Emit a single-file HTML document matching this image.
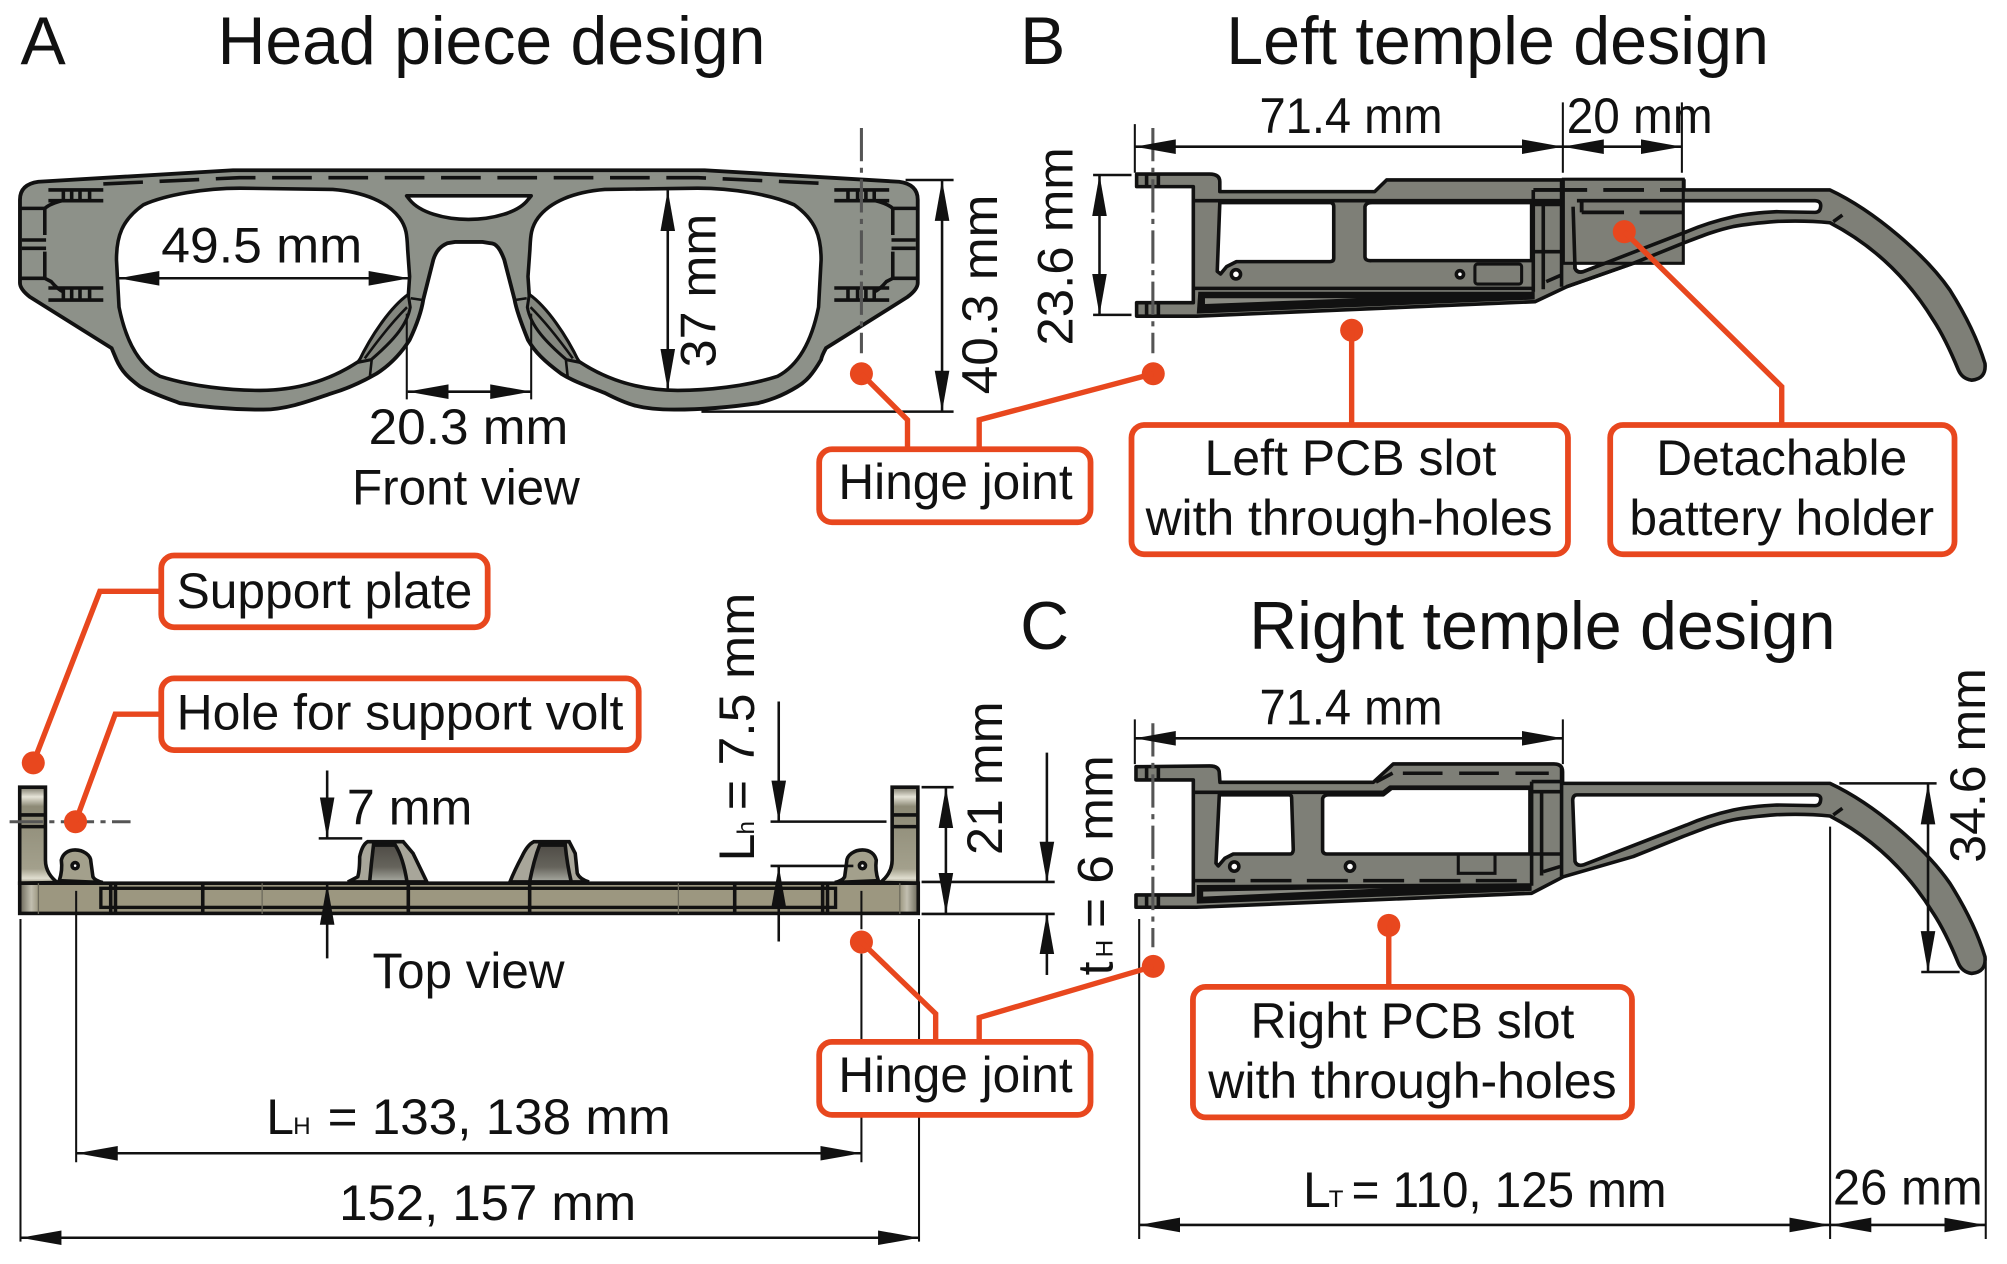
<!DOCTYPE html>
<html><head><meta charset="utf-8"><style>
html,body{margin:0;padding:0;background:#fff}
svg{display:block}
text{font-family:"Liberation Sans",sans-serif;fill:#111}
.t{font-size:53px}.m{font-size:39px}
.d{stroke:#111;stroke-width:2;fill:none}
.e{stroke:#111;stroke-width:1.6;fill:none}
.o{stroke:#e8471e;stroke-width:4.2;fill:none}
.b{stroke:#e8471e;stroke-width:4.5;fill:#fff}
.f{fill:#e8471e}
.k{stroke:#111;stroke-width:2.8;fill:none;stroke-linejoin:round}
.w{fill:#fff;stroke:#111;stroke-width:2.8;stroke-linejoin:round}
.c{stroke:#555;stroke-width:2.4;fill:none;stroke-dasharray:26 5 4 5}
</style></head><body>
<svg xmlns="http://www.w3.org/2000/svg" width="2007" height="1264" viewBox="0 0 1568 987.5">
<defs>
<marker id="a" markerUnits="userSpaceOnUse" markerWidth="34" markerHeight="14" refX="32" refY="6.5" orient="auto-start-reverse"><path d="M0,0.8L32,6.5L0,12.2Z" fill="#111"/></marker>
<linearGradient id="g1" x1="0" x2="0" y1="0" y2="1"><stop offset="0" stop-color="#4f4c46"/><stop offset=".6" stop-color="#66645c"/><stop offset="1" stop-color="#a9aba2"/></linearGradient>
<linearGradient id="g2" x1="0" x2="0" y1="0" y2="1"><stop offset="0" stop-color="#7a7767"/><stop offset=".1" stop-color="#e6e4d8"/><stop offset=".2" stop-color="#8d8a76"/><stop offset=".85" stop-color="#a3a08c"/><stop offset=".95" stop-color="#e0ded0"/><stop offset="1" stop-color="#8d8a76"/></linearGradient>
<linearGradient id="g3" x1="0" x2="1" y1="0" y2="0"><stop offset="0" stop-color="#6d6a5c"/><stop offset=".6" stop-color="#c2bfb0"/><stop offset="1" stop-color="#9c9780"/></linearGradient>
</defs>
<rect width="1568" height="987.5" fill="#fff"/>

<!-- Titles -->
<text class="t" x="16" y="50">A</text>
<text class="t" x="170" y="50" textLength="428" lengthAdjust="spacingAndGlyphs">Head piece design</text>
<text class="t" x="797" y="50">B</text>
<text class="t" x="958" y="50" textLength="424" lengthAdjust="spacingAndGlyphs">Left temple design</text>
<text class="t" x="797" y="507">C</text>
<text class="t" x="976" y="507" textLength="458" lengthAdjust="spacingAndGlyphs">Right temple design</text>

<!-- Front frame -->
<path d="M30,142L182,133H550.5L702.5,142Q717,144 717,156V221Q717,226 709,232L645.3,272Q642,278 641.5,281C635,292 630,298 623,302C610,310 600,313 592,315C565,319 545,320 527,320C500,320 490,316 472.5,307C460,302 448,298 438.5,292C425,282 418,275 412.5,265.6C407,252 403,240 402,234L394,203C391,195 388,190 383,190L377,189H355.5L349.5,190C345,192 341,195 338.5,203L330.7,234C329,245 325,255 320,265.6C314,275 305,285 294,292C280,300 270,304 260,307C245,312 225,320 205.7,320C190,320 165,319 140.6,315C130,311 118,307 109.4,302C100,295 95,290 91,281L87.2,272L23.4,232Q15.6,226 15.6,221V156Q15.6,144 30,142Z" fill="#8d9189" stroke="#111" stroke-width="3"/>
<g id="half">
<path d="M91,203C91,185 95,172 112,160C130,152 160,147 187.5,147L260,148C285,150 303,158 312,170C318,178 318,185 318.5,195L320,216L319,231L280,282.5C258,297 232,305 203,305C180,305 150,302 125,294C108,285 98,265 93,240Z" class="w"/>
<path d="M319,230C305,240 290,262 280,283L290,281C305,268 318,255 320.5,240Z" fill="#84877f" stroke="#111" stroke-width="2.4"/>
<path d="M285,280C298,262 308,250 318,240M290.4,281L289,294M321,233L330.7,234.5" stroke="#111" stroke-width="2" fill="none"/>
<path d="M37.8,148.4H80.7M37.8,156.8H80.7M37.8,225H80.7M37.8,234.4H80.7M49.5,148V157M56,148V157M62.5,148V157M70,148V157M49.5,225V234M56,225V234M62.5,225V234M70,225V234" stroke="#111" stroke-width="2.8" fill="none"/>
<path d="M15.6,162.8H35V183.6M35,162.8Q39,159 49.5,156.5M17,187.5H36M17,194H36M35,196.6V217.4H15.6M35,217.4L40,220Q45,226 49.5,228" stroke="#111" stroke-width="2.8" fill="none"/>
</g>
<use href="#half" transform="matrix(-1 0 0 1 732.5 0)"/>
<path d="M80.7,143.7L187,138.8H545.5L652,143.7" fill="none" stroke="#111" stroke-width="2.8" stroke-dasharray="31 13"/>
<path d="M317.7,153H415L412.5,156C405,166 385,171.4 366,171.4C347,171.4 328,166 320,156Z" class="w"/>

<!-- Front dims -->
<line class="d" x1="92.5" y1="217.4" x2="320" y2="217.4" marker-start="url(#a)" marker-end="url(#a)"/>
<path class="e" d="M317.8,245V312M415,245V312"/>
<line class="d" x1="318.5" y1="306" x2="415" y2="306" marker-start="url(#a)" marker-end="url(#a)"/>
<line class="d" x1="521.7" y1="148.5" x2="521.7" y2="304.7" marker-start="url(#a)" marker-end="url(#a)"/>
<path class="d" d="M707.5,140.6H745M548,321.6H745"/>
<line class="d" x1="736" y1="140.6" x2="736" y2="321.6" marker-start="url(#a)" marker-end="url(#a)"/>
<line class="c" x1="673" y1="100" x2="673" y2="276"/>
<text class="m" x="126" y="205" textLength="157" lengthAdjust="spacingAndGlyphs">49.5 mm</text>
<text class="m" x="288" y="347" textLength="156" lengthAdjust="spacingAndGlyphs">20.3 mm</text>
<text class="m" x="275" y="394" textLength="178" lengthAdjust="spacingAndGlyphs">Front view</text>
<text class="m" transform="translate(559,287) rotate(-90)" textLength="120" lengthAdjust="spacingAndGlyphs">37 mm</text>
<text class="m" transform="translate(779,308) rotate(-90)" textLength="156" lengthAdjust="spacingAndGlyphs">40.3 mm</text>

<!-- Left temple B -->
<path d="M888,136H945Q953,136 953,142V149.7H1074L1083.3,140.6H1221.3V148.4H1429.7C1465,165 1505,200 1523.4,226.6C1535,245 1545,265 1550.8,284Q1552,296 1540.4,297Q1533,296 1530,289C1523,272 1517,260 1510.4,250C1495,225 1470,195 1429.7,174C1415,172.5 1400,172.5 1388,173C1375,174 1365,175 1354,177C1340,180 1328,185 1315,190L1276,205.7L1224,224L1199.2,235.7L935,247H888V236.5H932.3V145.8H888Z" fill="#7e7f77" stroke="#111" stroke-width="2.8" stroke-linejoin="round"/>
<path d="M953,158.3H1039Q1042,158.3 1042,161.5V201.8Q1042,204.4 1039,204.4H966L958.3,208.3L953.6,214L951,212Z" class="w"/>
<path d="M1072,158.3H1196.6V203.6H1071.6Q1066.4,204 1066.4,200.5V161.5Q1067,158.3 1072,158.3Z" class="w"/>
<path d="M1232,156.8H1418Q1423,157 1422.4,161.5Q1422,165.9 1418,165.9L1388,165.4C1375,166 1365,167 1354.2,169.3C1340,172.5 1328,176.5 1317.7,181L1237,212.2Q1232,213.5 1230.5,209.6L1228.7,161.5Q1229,157 1232,156.8Z" class="w"/>
<rect x="1221.4" y="140" width="93.7" height="65.7" fill="#7e7f77" stroke="#111" stroke-width="2.4"/>
<path d="M1232,156.8H1315M1315,165.9H1281M1229,161.5L1230.5,209.6Q1232,213.5 1237,212.2L1317.7,181" class="k"/>
<path d="M1224,224L1276,205.7L1315,190" class="k"/>
<path d="M1315.6,148.4V140M1432.3,173.2L1439.4,168" class="k"/>
<path d="M1198,148.4H1240M1252.6,148.4H1284.4M1296.9,148.4H1315" stroke="#111" stroke-width="3" fill="none"/>
<path d="M1235.7,165.9H1268.8M1281.3,165.9H1315M1235.7,158V165.9" stroke="#111" stroke-width="3" fill="none"/>
<path d="M932.3,156.8H1220M1197.9,148.4V228M1205.7,158V226M1220,140V224M1197.9,196.6H1220M1208,220L1220,214.8M932.3,225.3H1199M895.8,137V146M905,137V146M895.8,237V246M905,237V246" class="k"/>
<path d="M1197.9,158.9H1220" stroke="#111" stroke-width="4.5"/>
<path d="M936.2,227.9H1199V234L935,245Z" fill="#111"/>
<path d="M941.4,233H1060L941.4,237.5Z" fill="#8a8b83"/>
<circle cx="965.6" cy="214.3" r="3.6" class="w"/><circle cx="1140.6" cy="214.3" r="2.8" class="w"/>
<rect x="1152.3" y="206.3" width="36.5" height="15.6" rx="2" fill="none" stroke="#111" stroke-width="2.4"/>
<line class="c" x1="900.7" y1="100" x2="900.7" y2="276"/>

<!-- B dims -->
<path class="e" d="M886.6,97V135M1221,80V135M1314,80V135"/>
<line class="d" x1="886.6" y1="114.6" x2="1221" y2="114.6" marker-start="url(#a)" marker-end="url(#a)"/>
<line class="d" x1="1221" y1="114.6" x2="1314" y2="114.6" marker-start="url(#a)" marker-end="url(#a)"/>
<path class="d" d="M854,136.7H884M854,246H884"/>
<line class="d" x1="859" y1="136.7" x2="859" y2="246" marker-start="url(#a)" marker-end="url(#a)"/>
<text class="m" x="984" y="104" textLength="143" lengthAdjust="spacingAndGlyphs">71.4 mm</text>
<text class="m" x="1224" y="104" textLength="114" lengthAdjust="spacingAndGlyphs">20 mm</text>
<text class="m" transform="translate(838,270) rotate(-90)" textLength="155" lengthAdjust="spacingAndGlyphs">23.6 mm</text>

<!-- Callouts upper -->
<g class="f"><circle cx="673" cy="292" r="9"/><circle cx="901" cy="292" r="9"/><circle cx="1056" cy="258" r="9"/><circle cx="1269" cy="181" r="9"/></g>
<path class="o" d="M673,292L709,328V350M901,292L765,328V350M1056,258V331M1269,181L1392,302V331"/>
<rect class="b" x="640" y="351" width="212" height="57" rx="10"/>
<rect class="b" x="884" y="332" width="341" height="101" rx="10"/>
<rect class="b" x="1258" y="332" width="269" height="101" rx="10"/>
<text class="m" x="655" y="390" textLength="183" lengthAdjust="spacingAndGlyphs">Hinge joint</text>
<text class="m" x="941" y="371" textLength="228" lengthAdjust="spacingAndGlyphs">Left PCB slot</text>
<text class="m" x="895" y="418" textLength="318" lengthAdjust="spacingAndGlyphs">with through-holes</text>
<text class="m" x="1294" y="371" textLength="196" lengthAdjust="spacingAndGlyphs">Detachable</text>
<text class="m" x="1273" y="418" textLength="238" lengthAdjust="spacingAndGlyphs">battery holder</text>

<!-- Top view -->
<g id="tv">
<path d="M15.4,690V615H35.5V672C35.5,680 40,686 45,689.5Z" fill="url(#g2)" stroke="#111" stroke-width="2.8"/>
<path d="M15.4,636.7H35.5M15.4,645.8H35.5" class="k"/>
<path d="M46.3,688Q49,680 47.9,672C49,667 53,664 58.7,664C65,664 71,668 71,673.2L72.6,685Q74,688 80.3,689.5Z" fill="#a3a08c" stroke="#111" stroke-width="2.8"/>
<circle cx="58.7" cy="676.3" r="2.4" class="w"/>
</g>
<use href="#tv" transform="matrix(-1 0 0 1 732.5 0)"/>
<path d="M271.8,689L279.5,685Q281,680 281,669.3Q283,660 287.2,657.6H315L322.7,666.7L333.5,689Z" fill="#a8a69a" stroke="#111" stroke-width="2.8"/>
<path d="M291.8,660.2H308.8Q315,670 318,689H288.8Q290,675 291.8,660.2Z" fill="url(#g1)" stroke="#111" stroke-width="2.8"/>
<path d="M398.4,689Q402,680 407.7,669.3Q412,660 417,657.6H444.7L449.4,666.7L451,682.3Q453,687 460.2,689Z" fill="#a8a69a" stroke="#111" stroke-width="2.8"/>
<path d="M421.6,660.2H441.6Q443,675 446.3,689H413.8Q417,672 421.6,660.2Z" fill="url(#g1)" stroke="#111" stroke-width="2.8"/>
<rect x="15.4" y="690" width="702" height="23.6" fill="#9c9780"/>
<rect x="16" y="691" width="14" height="22" fill="url(#g3)"/>
<rect x="703" y="691" width="14" height="22" fill="url(#g3)" transform="matrix(-1 0 0 1 1420 0)"/>
<rect x="15.4" y="690" width="702" height="23.6" fill="none" stroke="#111" stroke-width="2.8"/>
<rect x="78.8" y="694" width="574" height="14.9" fill="none" stroke="#111" stroke-width="2.6"/>
<path class="k" d="M86.5,690V714M90.2,690V714M158.4,690V714M319,690V714M413.8,690V714M574,690V714M642.7,690V714M646.5,690V714"/>
<path d="M30,690V714M204.8,690V714M530,690V714M703,690V714" stroke="#6d6a5c" stroke-width="1" fill="none"/>
<path class="e" d="M59.5,696V908M673,696V726M673,745V908M16,718V970M718,718V970"/>
<line class="c" x1="7.5" y1="642" x2="102" y2="642"/>

<!-- Top dims -->
<line class="d" x1="255.6" y1="602" x2="255.6" y2="654.9" marker-end="url(#a)"/>
<path class="d" d="M249,655H283"/>
<line class="d" x1="255.6" y1="748.7" x2="255.6" y2="690.5" marker-end="url(#a)"/>
<line class="d" x1="608.4" y1="548" x2="608.4" y2="641.9" marker-end="url(#a)"/>
<path class="d" d="M602,641.9H692.6M602,676.5H666.7"/>
<line class="d" x1="608.4" y1="735.6" x2="608.4" y2="676.5" marker-end="url(#a)"/>
<path class="d" d="M720,615H745M720,689H824M720,714H824"/>
<line class="d" x1="739" y1="615" x2="739" y2="714" marker-start="url(#a)" marker-end="url(#a)"/>
<line class="d" x1="817.9" y1="588" x2="817.9" y2="689.6" marker-end="url(#a)"/>
<line class="d" x1="817.9" y1="761.7" x2="817.9" y2="713.5" marker-end="url(#a)"/>
<line class="d" x1="60" y1="901" x2="673" y2="901" marker-start="url(#a)" marker-end="url(#a)"/>
<line class="d" x1="16" y1="967" x2="718" y2="967" marker-start="url(#a)" marker-end="url(#a)"/>

<text class="m" x="271" y="644" textLength="98" lengthAdjust="spacingAndGlyphs">7 mm</text>
<text class="m" x="291" y="772" textLength="150" lengthAdjust="spacingAndGlyphs">Top view</text>
<text class="m" x="208" y="886">L</text>
<text x="229" y="886" font-size="19">H</text>
<text class="m" x="256" y="886" textLength="268" lengthAdjust="spacingAndGlyphs">= 133, 138 mm</text>
<text class="m" x="265" y="953" textLength="232" lengthAdjust="spacingAndGlyphs">152, 157 mm</text>
<text class="m" transform="translate(589,673) rotate(-90)">L</text>
<text transform="translate(589,652) rotate(-90)" font-size="19">h</text>
<text class="m" transform="translate(589,633) rotate(-90)" textLength="170" lengthAdjust="spacingAndGlyphs">= 7.5 mm</text>
<text class="m" transform="translate(783,668) rotate(-90)" textLength="120" lengthAdjust="spacingAndGlyphs">21 mm</text>
<text class="m" transform="translate(869,762) rotate(-90)">t</text>
<text transform="translate(869,748) rotate(-90)" font-size="19">H</text>
<text class="m" transform="translate(869,725) rotate(-90)" textLength="135" lengthAdjust="spacingAndGlyphs">= 6 mm</text>

<!-- Right temple C -->
<path d="M887.5,599L945,598.4Q952.6,598.4 952.6,604L953.1,611.2H1072.9L1088.5,596.8H1214Q1220.8,596.8 1220.8,603V612H1429.7C1465,628.5 1505,663.5 1523.4,690.1C1535,708.5 1545,728.5 1550.8,747.5Q1552,759.5 1540.4,760.5Q1533,759.5 1530,752.5C1523,735.5 1517,723.5 1510.4,713.5C1495,688.5 1470,658.5 1429.7,637.5C1415,636 1400,636 1388,636.5C1375,637.5 1365,638.5 1354,640.5C1340,643.5 1328,648.5 1315,653.5L1276,669.2L1221.3,685L1196.6,697.9L934.9,708.8H887.5V699.2H932.3V609.3H887.5Z" fill="#7e7f77" stroke="#111" stroke-width="2.8" stroke-linejoin="round"/>
<path d="M952.6,621H1007Q1009.1,621 1009.1,623L1010.4,664Q1010,667.2 1007.9,667.2H963.5L957,670.5L951.8,676.5L950,674.4Z" class="w"/>
<path d="M1038,621H1080.7L1087.2,615.9H1195.3V667.2H1036.4Q1033.3,667 1033.3,664V624Q1034,621 1038,621Z" class="w"/>
<path d="M1232,621H1418Q1423,621 1422.4,625Q1422,629.4 1418,629.4L1388,628.9C1375,629.5 1365,630.5 1354.2,632.8C1340,636 1328,640 1317.7,644.5L1237,675.7Q1232,677 1230.5,673L1228.7,625Q1229,621 1232,621Z" class="w"/>
<path class="k" d="M932.3,619H1080.7L1086,615H1195.3M1075,611L1088,604M1196.6,610.6V692M1204.4,618V684M1220,600V686M1196.6,610.6H1220.8M1196.6,618.5H1220M1196.6,667.2H1220M1205.7,681L1218.8,677M1432.3,636.7L1439.4,631.5M895.8,600V609M905,600V609M895.8,700V709M905,700V709"/>
<path d="M1096,604.1H1210" stroke="#111" stroke-width="2.8" stroke-dasharray="31 13" fill="none"/>
<path d="M933,688H1195" stroke="#111" stroke-width="2.8" stroke-dasharray="32 12" fill="none"/>
<path d="M935,691.4L1196.6,690V696L935,706Z" fill="#111"/>
<path d="M940,696.6L1080.7,694L940,700.5Z" fill="#8a8b83"/>
<circle cx="964.3" cy="677" r="3.6" class="w"/><circle cx="1054.7" cy="677" r="3.6" class="w"/>
<path d="M1139.3,667.9V682.3H1168V667.9" fill="none" stroke="#111" stroke-width="2.4"/>
<line class="c" x1="900.7" y1="565" x2="900.7" y2="740"/>

<!-- C dims -->
<path class="e" d="M886.6,562V597M1221,562V597M890,718V968M1429.8,645.8V968M1551.4,752V968"/>
<line class="d" x1="886.6" y1="576.8" x2="1221" y2="576.8" marker-start="url(#a)" marker-end="url(#a)"/>
<path class="d" d="M1437,612H1513M1501,759.4H1531"/>
<line class="d" x1="1506.3" y1="612" x2="1506.3" y2="759.4" marker-start="url(#a)" marker-end="url(#a)"/>
<line class="d" x1="890" y1="957" x2="1430" y2="957" marker-start="url(#a)" marker-end="url(#a)"/>
<line class="d" x1="1430" y1="957" x2="1551" y2="957" marker-start="url(#a)" marker-end="url(#a)"/>
<text class="m" x="984" y="566" textLength="143" lengthAdjust="spacingAndGlyphs">71.4 mm</text>
<text class="m" transform="translate(1551,674) rotate(-90)" textLength="152" lengthAdjust="spacingAndGlyphs">34.6 mm</text>
<text class="m" x="1018" y="943">L</text>
<text x="1038" y="943" font-size="19">T</text>
<text class="m" x="1056" y="943" textLength="246" lengthAdjust="spacingAndGlyphs">= 110, 125 mm</text>
<text class="m" x="1432" y="941" textLength="117" lengthAdjust="spacingAndGlyphs">26 mm</text>

<!-- Callouts lower -->
<g class="f"><circle cx="26" cy="596" r="9"/><circle cx="59" cy="642" r="9"/><circle cx="673" cy="736" r="9"/><circle cx="901" cy="755" r="9"/><circle cx="1085" cy="723" r="9"/></g>
<path class="o" d="M26,596L78,462H127M59,642L90,558H127M673,736L731,792V813M901,755L765,795V813M1085,723V770"/>
<rect class="b" x="126" y="434" width="255" height="56" rx="10"/>
<rect class="b" x="126" y="530" width="373" height="56" rx="10"/>
<rect class="b" x="640" y="814" width="212" height="57" rx="10"/>
<rect class="b" x="932" y="771" width="343" height="102" rx="10"/>
<text class="m" x="138" y="475" textLength="231" lengthAdjust="spacingAndGlyphs">Support plate</text>
<text class="m" x="138" y="570" textLength="349" lengthAdjust="spacingAndGlyphs">Hole for support volt</text>
<text class="m" x="655" y="853" textLength="183" lengthAdjust="spacingAndGlyphs">Hinge joint</text>
<text class="m" x="977" y="811" textLength="253" lengthAdjust="spacingAndGlyphs">Right PCB slot</text>
<text class="m" x="944" y="858" textLength="319" lengthAdjust="spacingAndGlyphs">with through-holes</text>
</svg>
</body></html>
